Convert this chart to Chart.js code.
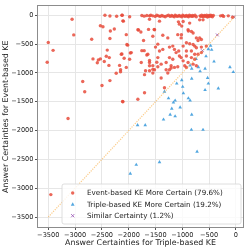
<!DOCTYPE html>
<html><head><meta charset="utf-8">
<script src="https://cdn.jsdelivr.net/npm/chart.js@4/dist/chart.umd.min.js"></script>
<style>html,body{margin:0;padding:0;background:#fff;}canvas{display:block;}</style>
</head><body>
<canvas id="c" width="249" height="249"></canvas>
<script>
const xTicks = [-3500,-3000,-2500,-2000,-1500,-1000,-500,0];
const yTicks = [-3500,-3000,-2500,-2000,-1500,-1000,-500,0];
const xTitle = "Answer Certainties for Triple-based KE";
const yTitle = "Answer Certainties for Event-based KE";
const seriesLabels = ["Event-based KE More Certain (79.6%)","Triple-based KE More Certain (19.2%)","Similar Certainty (1.2%)"];
const diagonal = [[-3500,-3500],[0,0]];

const eventBetter = [
[-3500,-473],[-3520,-814],[-3410,-609],[-3056,-68],[-3025,-341],[-2690,-416],[-2443,0],[-2350,-12],[-2225,-17],[-2127,0],
[-2528,-183],[-2480,-200],[-2268,-239],[-2342,-273],[-2100,-102],[-2350,-404],[-2400,-604],[-2666,-757],[-2566,-774],[-2528,-757],
[-2585,-825],[-2418,-711],[-2362,-734],[-2455,-802],[-2369,-870],[-2127,-672],[-2085,-745],[-2170,-870],[-2233,-1007],[-2152,-979],
[-2350,-1133],[-2857,-1150],[-2820,-1326],[-2498,-1218],[-2114,-1496],[-3131,-1791],[-3452,-3111],
[-2120,0],[-1982,-25],[-1755,-5],[-1711,-15],[-1662,-5],[-1612,-10],[-1588,0],[-1550,-10],[-1506,-20],[-1476,0],
[-1444,-10],[-1413,-20],[-1383,-5],[-1351,-15],[-1320,-25],[-1290,-10],[-1258,0],[-1227,-20],[-1200,-5],[-1178,-15],
[-1150,-25],[-1134,0],[-1110,-10],[-1091,-20],[-1060,-5],[-1041,-15],[-1010,-25],[-993,0],[-970,-10],[-948,-20],
[-925,-5],[-905,-15],[-885,-25],[-868,0],[-845,-10],[-825,-20],[-810,-5],[-794,-15],[-763,0],[-740,-25],
[-669,-10],[-655,-20],[-639,0],[-620,-15],[-608,-25],[-590,-5],[-576,-10],[-560,-20],[-546,0],[-530,-30],
[-515,-15],[-500,-5],[-484,-20],[-470,0],[-453,-10],[-440,-25],[-422,-5],[-286,-10],[-249,-5],[-230,-20],[-143,-10],[-63,-35],
[-1612,-68],[-2108,-97],[-1054,-154],[-1829,-251],[-1518,-251],[-2045,-336],[-1723,-438],[-1550,-365],[-1364,-348],[-1271,-393],
[-1085,-336],[-1022,-393],[-2033,-507],[-2138,-677],[-1952,-648],[-1500,-552],[-1364,-592],[-1240,-552],[-1178,-535],[-1147,-592],
[-1116,-648],[-1067,-621],[-1426,-621],[-1643,-677],[-1457,-734],[-1240,-734],[-1178,-762],[-1054,-706],[-1022,-734],[-1983,-762],
[-1766,-819],[-1612,-819],[-1612,-876],[-1550,-876],[-1457,-893],[-1395,-848],[-1302,-819],[-1209,-876],[-1147,-904],[-1085,-893],[-2045,-904],
[-985,-108],[-863,-136],[-677,-80],[-614,-80],[-893,-251],[-831,-280],[-799,-307],[-1017,-336],[-738,-393],[-677,-393],
[-645,-421],[-707,-438],[-924,-478],[-863,-495],[-799,-507],[-769,-535],[-738,-563],[-645,-552],[-552,-535],[-985,-535],
[-924,-621],[-831,-621],[-769,-677],[-707,-677],[-645,-648],[-924,-706],[-831,-734],[-769,-762],[-985,-791],[-893,-819],
[-799,-848],[-738,-876],[-955,-876],[-924,-904],
[-2108,-1501],[-1829,-1457],[-1705,-1343],[-1333,-1257],[-1395,-1087],[-1271,-1001],[-1705,-1030],[-1686,-962],[-1612,-962],[-1519,-945],
[-1550,-1001],[-1302,-945],[-1240,-945],[-1209,-916],[-2151,-945],
[-1816,-256],[-1773,-290],[-1630,-245],[-1525,-245],[-1426,-102],[-1073,-114],[-1011,-188],[-887,-273],[-2020,-518],[-1970,-655],
[-1755,-614],[-1711,-614],[-1662,-689],[-1457,-501],[-1612,-785],[-1476,-814],[-1550,-938]
];
const tripleBetter = [
[-472,-529],[-515,-587],[-453,-598],[-558,-711],[-744,-757],[-855,-870],[-825,-927],[-701,-899],[-669,-972],[-576,-927],
[-409,-802],[-112,-899],[-50,-984],[-528,-1087],[-825,-1099],[-1011,-1126],[-1104,-1184],[-515,-1184],[-993,-1240],[-329,-1269],
[-576,-1297],[-980,-1354],[-1333,-1326],[-1258,-1440],[-887,-1440],[-855,-1479],[-1134,-1479],[-1166,-1513],[-1041,-1598],[-1197,-1621],
[-1227,-1723],[-1134,-1752],[-825,-1723],[-1351,-1808],[-1835,-1906],[-1692,-1906],[-831,-1986],[-614,-1986],[-725,-2366],[-1859,-2593],
[-1426,-2549],[-1970,-2747]
];
const similar = [[-626,-614],[-348,-341],[-40,-30]];

const toXY = a => a.map(p => ({x:p[0], y:p[1]}));
const fmt = v => (v<0?'\u2212':'') + Math.abs(v);
const RED='rgba(231,76,60,0.85)', BLUE='rgba(52,152,219,0.85)', PURPLE='rgba(155,89,182,0.85)';

const boxPlugin = {
  id:'boxPlugin',
  afterDatasetsDraw(chart){
    const {ctx, chartArea:a} = chart;
    ctx.save();
    ctx.strokeStyle='#8c8c8c'; ctx.lineWidth=1;
    ctx.strokeRect(Math.round(a.left)+0.5, Math.round(a.top)+0.5, Math.round(a.right-a.left)-1, Math.round(a.bottom-a.top)-1);
    const lx=62, ly=184, lw=179, lh=40;
    ctx.beginPath();
    const r=2;
    ctx.moveTo(lx+r,ly); ctx.lineTo(lx+lw-r,ly); ctx.quadraticCurveTo(lx+lw,ly,lx+lw,ly+r);
    ctx.lineTo(lx+lw,ly+lh-r); ctx.quadraticCurveTo(lx+lw,ly+lh,lx+lw-r,ly+lh);
    ctx.lineTo(lx+r,ly+lh); ctx.quadraticCurveTo(lx,ly+lh,lx,ly+lh-r);
    ctx.lineTo(lx,ly+r); ctx.quadraticCurveTo(lx,ly,lx+r,ly); ctx.closePath();
    ctx.fillStyle='rgba(255,255,255,0.8)'; ctx.fill();
    ctx.strokeStyle='#d6d6d6'; ctx.lineWidth=0.8; ctx.stroke();
    const rows=[193,204.3,215.7];
    const mx=72.7;
    ctx.font='7.2px "DejaVu Sans"'; ctx.textBaseline='middle'; ctx.fillStyle='#222';
    chart.data.datasets.slice(0,3).forEach((ds,i)=>{
      const y=rows[i];
      ctx.fillStyle=ds.backgroundColor; ctx.strokeStyle=ds.borderColor;
      if(i===0){ctx.beginPath();ctx.arc(mx,y,1.7,0,Math.PI*2);ctx.fill();}
      else if(i===1){ctx.beginPath();ctx.moveTo(mx,y-2);ctx.lineTo(mx+1.9,y+1.4);ctx.lineTo(mx-1.9,y+1.4);ctx.closePath();ctx.fill();}
      else {ctx.lineWidth=1;ctx.beginPath();ctx.moveTo(mx-1.6,y-1.6);ctx.lineTo(mx+1.6,y+1.6);ctx.moveTo(mx+1.6,y-1.6);ctx.lineTo(mx-1.6,y+1.6);ctx.stroke();}
      ctx.fillStyle='#222';
      ctx.fillText(ds.label, 87, y+0.5);
    });
    ctx.restore();
  }
};

new Chart(document.getElementById('c'), {
  type:'scatter',
  data:{datasets:[
    {label:seriesLabels[0], data:toXY(eventBetter), backgroundColor:RED, borderColor:RED, pointStyle:'circle', pointRadius:1.7, borderWidth:0, order:2},
    {label:seriesLabels[1], data:toXY(tripleBetter), backgroundColor:BLUE, borderColor:BLUE, pointStyle:'triangle', pointRadius:2.1, borderWidth:0, order:2},
    {label:seriesLabels[2], data:toXY(similar), backgroundColor:PURPLE, borderColor:PURPLE, pointStyle:'crossRot', pointRadius:2, borderWidth:1, order:2},
    {type:'line', label:'diag', data:toXY(diagonal), borderColor:'rgba(248,170,60,0.6)', borderWidth:1.2, borderDash:[1.2,1.2], pointRadius:0, fill:false, order:1}
  ]},
  options:{
    responsive:false, animation:false, devicePixelRatio:1,
    layout:{padding:{top:2,right:4,left:0,bottom:0}},
    plugins:{legend:{display:false}, tooltip:{enabled:false}},
    scales:{
      x:{type:'linear', min:-3710, max:150,
        afterBuildTicks:s=>{s.ticks=xTicks.map(v=>({value:v}));},
        afterFit:s=>{s.height=21;},
        grid:{color:'#e6e6e6', lineWidth:1, drawTicks:true, tickLength:2, tickColor:'#555'},
        border:{display:false},
        ticks:{font:{family:'DejaVu Sans', size:6.6}, color:'#222', padding:1, maxRotation:0, autoSkip:false, callback:fmt},
        title:{display:true, text:xTitle, font:{family:'DejaVu Sans', size:7.9}, color:'#222', padding:{top:0,bottom:1}}
      },
      y:{type:'linear', min:-3690, max:170,
        afterBuildTicks:s=>{s.ticks=yTicks.map(v=>({value:v}));},
        afterFit:s=>{s.width=37;},
        grid:{color:'#e6e6e6', lineWidth:1, drawTicks:true, tickLength:2, tickColor:'#555'},
        border:{display:false},
        ticks:{font:{family:'DejaVu Sans', size:6.6}, color:'#222', padding:1.5, autoSkip:false, callback:fmt},
        title:{display:true, text:yTitle, font:{family:'DejaVu Sans', size:7.9}, color:'#222', padding:{top:1,bottom:0}}
      }
    }
  },
  plugins:[boxPlugin]
});
</script>
</body></html>
